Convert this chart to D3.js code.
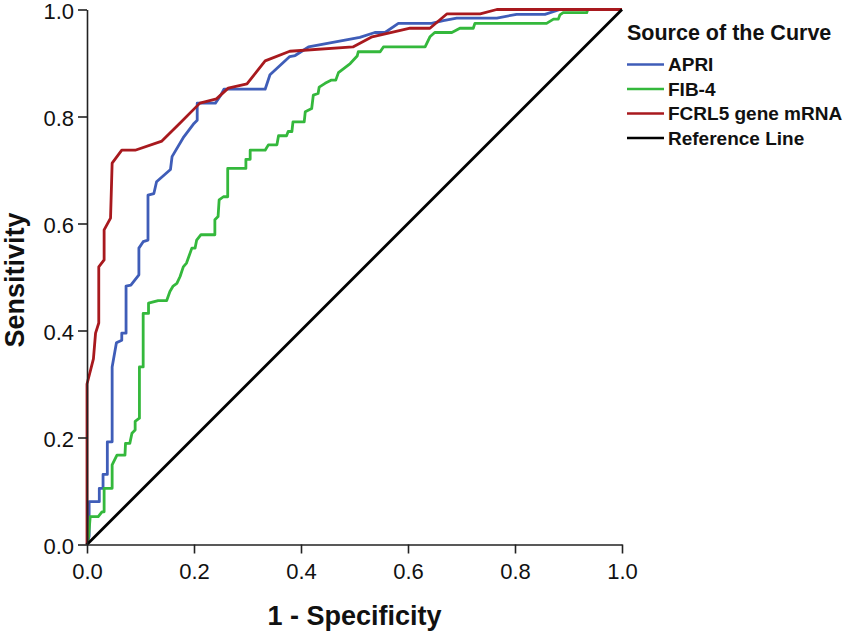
<!DOCTYPE html>
<html>
<head>
<meta charset="utf-8">
<script src="https://cdn.jsdelivr.net/npm/d3@7"></script>
<style>
  html, body { margin: 0; padding: 0; background: #ffffff; }
  svg { display: block; font-family: "Liberation Sans", Arial, sans-serif; }
</style>
</head>
<body>
<svg id="chart" width="851" height="635"></svg>
<script>
// ---- Data (1 - specificity, sensitivity) ----
const xTicks = [0.0, 0.2, 0.4, 0.6, 0.8, 1.0];
const yTicks = [0.0, 0.2, 0.4, 0.6, 0.8, 1.0];
const seriesNames = ["APRI", "FIB-4", "FCRL5 gene mRNA", "Reference Line"];

const apri = [
  [0,0],[0.004,0.015],[0.004,0.080],[0.023,0.080],[0.023,0.105],[0.030,0.105],
  [0.030,0.131],[0.038,0.131],[0.038,0.192],[0.047,0.192],[0.047,0.332],
  [0.055,0.377],[0.065,0.382],[0.065,0.395],[0.073,0.395],[0.073,0.483],
  [0.082,0.485],[0.097,0.504],[0.097,0.554],[0.105,0.566],[0.114,0.569],
  [0.114,0.653],[0.125,0.656],[0.130,0.678],[0.156,0.701],[0.159,0.725],
  [0.181,0.762],[0.200,0.787],[0.206,0.793],[0.206,0.825],[0.240,0.825],
  [0.250,0.840],[0.256,0.851],[0.333,0.851],[0.342,0.878],[0.379,0.912],
  [0.389,0.914],[0.414,0.930],[0.510,0.948],[0.538,0.957],[0.557,0.957],
  [0.582,0.974],[0.644,0.974],[0.666,0.979],[0.691,0.984],[0.766,0.984],
  [0.803,0.991],[0.856,0.991],[0.884,1.0],[1,1]
];

const fib4 = [
  [0,0],[0.003,0.015],[0.006,0.052],[0.021,0.052],[0.028,0.061],[0.032,0.061],
  [0.032,0.105],[0.047,0.105],[0.047,0.149],[0.056,0.167],[0.071,0.167],
  [0.072,0.189],[0.080,0.189],[0.084,0.208],[0.090,0.214],[0.090,0.230],
  [0.098,0.236],[0.098,0.332],[0.105,0.332],[0.105,0.432],[0.115,0.432],
  [0.115,0.451],[0.133,0.456],[0.149,0.456],[0.155,0.473],[0.161,0.483],
  [0.168,0.488],[0.174,0.501],[0.180,0.519],[0.186,0.526],[0.196,0.554],
  [0.202,0.554],[0.205,0.569],[0.213,0.579],[0.239,0.579],[0.239,0.607],
  [0.245,0.613],[0.247,0.644],[0.255,0.650],[0.263,0.650],[0.263,0.703],
  [0.297,0.703],[0.297,0.720],[0.305,0.720],[0.305,0.737],[0.333,0.737],
  [0.339,0.747],[0.355,0.747],[0.358,0.764],[0.373,0.764],[0.376,0.772],
  [0.383,0.772],[0.385,0.790],[0.406,0.790],[0.408,0.809],[0.420,0.815],
  [0.423,0.840],[0.432,0.843],[0.434,0.855],[0.445,0.862],[0.457,0.868],
  [0.465,0.868],[0.470,0.882],[0.492,0.899],[0.505,0.913],[0.507,0.921],
  [0.548,0.921],[0.554,0.930],[0.632,0.930],[0.641,0.949],[0.650,0.957],
  [0.682,0.957],[0.697,0.965],[0.722,0.965],[0.725,0.974],[0.859,0.974],
  [0.872,0.982],[0.881,0.982],[0.884,0.990],[0.890,0.994],[0.934,0.994],
  [0.936,1.0],[1,1]
];

const fcrl5 = [
  [0,0],[0,0.300],[0.012,0.347],[0.016,0.395],[0.022,0.414],[0.022,0.519],
  [0.032,0.532],[0.032,0.588],[0.044,0.610],[0.047,0.713],[0.065,0.737],
  [0.090,0.737],[0.140,0.754],[0.174,0.788],[0.211,0.825],[0.242,0.833],
  [0.264,0.853],[0.299,0.861],[0.333,0.904],[0.379,0.922],[0.497,0.930],
  [0.533,0.949],[0.604,0.965],[0.641,0.965],[0.673,0.992],[0.735,0.992],
  [0.766,1.0],[1,1]
];

const reference = [[0,0],[1,1]];

const seriesData = [apri, fib4, fcrl5, reference];
const seriesColors = ["#3f5db8", "#34b83c", "#a8191e", "#000000"];

// ---- Layout ----
const svg = d3.select("#chart");
const x = d3.scaleLinear().domain([0, 1]).range([87, 622]);
const y = d3.scaleLinear().domain([0, 1]).range([544.5, 9.5]);

// Curves
const line = d3.line().x(d => x(d[0])).y(d => y(d[1]));
svg.append("g").selectAll("path")
  .data(seriesData)
  .join("path")
  .attr("d", d => line(d))
  .attr("fill", "none")
  .attr("stroke", (d, i) => seriesColors[i])
  .attr("stroke-width", 2.8)
  .attr("stroke-linejoin", "round");

// Axes
const fmt = d3.format(".1f");
const gx = svg.append("g")
  .attr("transform", `translate(0,${y(0)})`)
  .call(d3.axisBottom(x).tickValues(xTicks).tickFormat(fmt).tickSize(9).tickSizeOuter(0).tickPadding(10));
const gy = svg.append("g")
  .attr("transform", `translate(${x(0)},0)`)
  .call(d3.axisLeft(y).tickValues(yTicks).tickFormat(fmt).tickSize(9).tickSizeOuter(0).tickPadding(4));

[gx, gy].forEach(g => {
  g.selectAll("path.domain").attr("stroke", "#222").attr("stroke-width", 1.6);
  g.selectAll(".tick line").attr("stroke", "#222").attr("stroke-width", 1.6);
  g.selectAll(".tick text")
    .attr("fill", "#111")
    .style("font-family", "'Liberation Sans', Arial, sans-serif")
    .style("font-size", "22px");
});
gy.selectAll(".tick text").attr("dy", "0.42em");

// Axis titles
svg.append("text")
  .attr("x", (x(0) + x(1)) / 2)
  .attr("y", 625)
  .attr("text-anchor", "middle")
  .style("font-size", "27px")
  .style("font-weight", "bold")
  .attr("fill", "#111")
  .text("1 - Specificity");

svg.append("text")
  .attr("transform", `translate(24,${(y(0) + y(1)) / 2 + 3}) rotate(-90)`)
  .attr("text-anchor", "middle")
  .style("font-size", "27px")
  .style("font-weight", "bold")
  .attr("fill", "#111")
  .text("Sensitivity");

// Legend
const legend = svg.append("g").attr("transform", "translate(627,0)");
legend.append("text")
  .attr("x", 0).attr("y", 40)
  .style("font-size", "21.5px")
  .style("font-weight", "bold")
  .attr("fill", "#111")
  .text("Source of the Curve");

const rows = legend.selectAll("g.row")
  .data(seriesNames)
  .join("g")
  .attr("class", "row")
  .attr("transform", (d, i) => `translate(0,${64.5 + i * 24.5})`);
rows.append("line")
  .attr("x1", 0).attr("x2", 37)
  .attr("y1", 0).attr("y2", 0)
  .attr("stroke", (d, i) => seriesColors[i])
  .attr("stroke-width", 2.6);
rows.append("text")
  .attr("x", 41).attr("y", 0).attr("dy", "0.36em")
  .style("font-size", "19px")
  .style("font-weight", "bold")
  .attr("fill", "#111")
  .text(d => d);
</script>
</body>
</html>
